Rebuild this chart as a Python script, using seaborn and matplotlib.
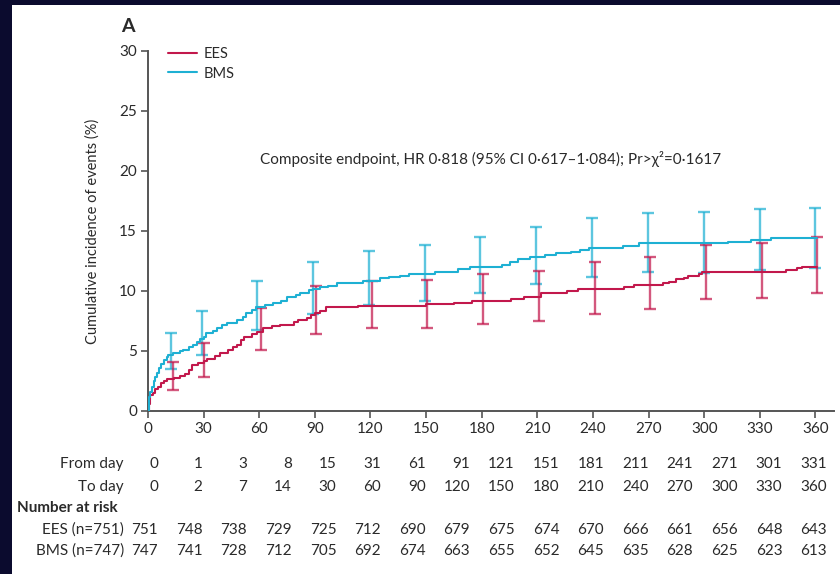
import numpy as np
import pandas as pd
import matplotlib
matplotlib.use("Agg")
import matplotlib.pyplot as plt
import seaborn as sns
from matplotlib.patches import Rectangle

# ---------------- data ----------------
ees_t = [0, 0.5, 1, 2.5, 4, 5.5, 7, 8.5, 10, 14, 17, 20, 22, 24, 27, 30, 32, 36, 39, 43, 46, 48, 50, 52,
         56, 59, 62, 67, 71, 79, 81, 86, 88, 90, 93, 96, 113, 150, 165, 175, 196, 203, 212, 226, 232,
         257, 262, 278, 281, 285, 289, 291, 297, 299, 344, 350, 353, 361]
ees_y = [0, 0.6, 1.3, 1.5, 1.8, 2.0, 2.3, 2.5, 2.65, 2.75, 2.9, 3.1, 3.4, 3.8, 4.0, 4.15, 4.3, 4.6, 4.86,
         5.1, 5.3, 5.5, 5.9, 6.2, 6.4, 6.6, 6.9, 7.08, 7.15, 7.4, 7.6, 7.75, 8.0, 8.15, 8.35, 8.64, 8.75,
         8.9, 9.03, 9.2, 9.33, 9.5, 9.86, 10.03, 10.14, 10.36, 10.5, 10.64, 10.78, 10.97, 11.1, 11.25,
         11.4, 11.58, 11.75, 11.9, 12.03, 12.03]

bms_t = [0, 0.3, 0.7, 1.3, 2, 3, 4, 5, 6, 7, 8.5, 10, 11, 13.5, 17, 19, 22, 24.5, 26.5, 28, 30, 31.5, 35,
         37, 40, 42.5, 48, 51, 53, 56, 58.5, 63, 67.5, 72, 75, 80, 82, 87, 89, 93, 97, 101.7, 116, 125,
         130, 136, 141, 155, 167, 173.6, 190.7, 195, 199.6, 206, 214, 220, 228.4, 233, 238, 256, 265,
         312.8, 325.4, 336.2, 361]
bms_y = [0, 0.8, 1.2, 1.6, 2.0, 2.5, 2.86, 3.2, 3.55, 3.9, 4.25, 4.5, 4.67, 4.86, 5.0, 5.08, 5.3, 5.5,
         5.75, 6.0, 6.2, 6.47, 6.7, 6.9, 7.15, 7.36, 7.58, 7.8, 8.14, 8.4, 8.64, 8.8, 8.97, 9.2, 9.53,
         9.7, 9.86, 10.05, 10.17, 10.3, 10.45, 10.64, 10.86, 11.06, 11.15, 11.28, 11.4, 11.6, 11.8,
         12.03, 12.2, 12.44, 12.64, 12.8, 13.0, 13.14, 13.28, 13.42, 13.56, 13.75, 13.97, 14.1, 14.25,
         14.39, 14.39]

bms_ci_t = [12.2, 28.9, 58.9, 89, 119.1, 149.3, 179.3, 209.5, 239.5, 269.7, 299.7, 329.9, 359.9]
bms_lo = [3.5, 4.7, 6.75, 8.1, 8.83, 9.17, 9.83, 10.6, 11.17, 11.56, 11.5, 11.75, 11.95]
bms_hi = [6.5, 8.3, 10.86, 12.45, 13.36, 13.8, 14.5, 15.36, 16.1, 16.5, 16.6, 16.8, 16.9]

ees_ci_t = [13.5, 30.3, 60.9, 90.6, 120.6, 150.4, 180.6, 210.8, 241, 271, 301, 331.2, 361]
ees_lo = [1.75, 2.85, 5.1, 6.4, 6.9, 6.95, 7.25, 7.5, 8.1, 8.5, 9.33, 9.45, 9.83]
ees_hi = [4.1, 5.7, 8.6, 10.4, 10.86, 10.9, 11.4, 11.7, 12.4, 12.8, 13.8, 13.97, 14.5]

x_ticks = [0, 30, 60, 90, 120, 150, 180, 210, 240, 270, 300, 330, 360]
y_ticks = [0, 5, 10, 15, 20, 25, 30]

from_day = [0, 1, 3, 8, 15, 31, 61, 91, 121, 151, 181, 211, 241, 271, 301, 331]
to_day = [0, 2, 7, 14, 30, 60, 90, 120, 150, 180, 210, 240, 270, 300, 330, 360]
ees_risk = [751, 748, 738, 729, 725, 712, 690, 679, 675, 674, 670, 666, 661, 656, 648, 643]
bms_risk = [747, 741, 728, 712, 705, 692, 674, 663, 655, 652, 645, 635, 628, 625, 623, 613]

annotation = "Composite endpoint, HR 0·818 (95% CI 0·617–1·084); Pr>χ²=0·1617"

# ---------------- style ----------------
sns.set_style("ticks")
FONT = ["Lato", "DejaVu Sans"]
plt.rcParams["font.family"] = FONT
TXT = "#2a2a2a"
AX = "#555555"
RED = "#c2184c"
CYAN = "#1eb0d3"

W, H = 840, 574
fig = plt.figure(figsize=(W / 100, H / 100), dpi=100, facecolor="#0b0b2e")
fig.patches.append(Rectangle((12 / W, 0), 1, (H - 5) / H, transform=fig.transFigure,
                             facecolor="white", edgecolor="none", zorder=-10))

left, right, bottom, top = 148, 834, 411, 51
ax = fig.add_axes([left / W, 1 - bottom / H, (right - left) / W, (bottom - top) / H])
ax.set_zorder(5)
ax.set_facecolor("none")
ax.patch.set_alpha(0)

df = pd.concat([
    pd.DataFrame({"t": ees_t, "y": ees_y, "group": "EES"}),
    pd.DataFrame({"t": bms_t, "y": bms_y, "group": "BMS"}),
])
sns.lineplot(data=df, x="t", y="y", hue="group", palette={"EES": RED, "BMS": CYAN},
             drawstyle="steps-post", linewidth=1.5, estimator=None, sort=False, ax=ax, zorder=3)

for ct, lo, hi, col in [(bms_ci_t, bms_lo, bms_hi, CYAN), (ees_ci_t, ees_lo, ees_hi, RED)]:
    lo = np.array(lo); hi = np.array(hi)
    mid = (lo + hi) / 2
    ax.errorbar(ct, mid, yerr=[mid - lo, hi - mid], fmt="none", ecolor=col, elinewidth=1.7,
                capsize=4, capthick=1.7, alpha=0.72, zorder=2)

ax.set_xlim(0, 370)
ax.set_ylim(0, 30)
ax.set_xticks(x_ticks)
ax.set_yticks(y_ticks)
ax.tick_params(axis="both", direction="out", length=5, width=1.2, color=AX,
               labelsize=11, labelcolor=TXT, pad=3)
for s in ["top", "right"]:
    ax.spines[s].set_visible(False)
for s in ["left", "bottom"]:
    ax.spines[s].set_color(AX)
    ax.spines[s].set_linewidth(1.4)
ax.set_xlabel("")
ax.set_ylabel("Cumulative incidence of events (%)", fontsize=10.5, color=TXT)
ax.yaxis.set_label_coords(-0.07, 0.5)

leg = ax.legend(loc="upper left", bbox_to_anchor=(0.018, 1.03), frameon=False, fontsize=10.5,
                handlelength=2.0, handletextpad=0.5, labelspacing=0.35, borderpad=0)
for t in leg.get_texts():
    t.set_color(TXT)

ax.text(184.6, 21, annotation, ha="center", va="center", fontsize=11, color=TXT)

fig.text(128 / W, 1 - 27 / H, "A", fontsize=14, fontweight="bold", color=TXT, ha="center", va="center")

# ---------------- risk table ----------------
col_x = [(158 + 44.6 * i) / W for i in range(len(from_day))]
rows = [(464, "From day", from_day), (487, "To day", to_day),
        (530, "EES (n=751)", ees_risk), (551, "BMS (n=747)", bms_risk)]
for ypx, label, vals in rows:
    fig.text(124 / W, 1 - ypx / H, label, ha="right", va="center", fontsize=11, color=TXT)
    for xi, v in zip(col_x, vals):
        fig.text(xi, 1 - ypx / H, str(v), ha="right", va="center", fontsize=11, color=TXT)
fig.text(17 / W, 1 - 508 / H, "Number at risk", ha="left", va="center", fontsize=11,
         fontweight="bold", color=TXT)

fig.savefig("out.png", dpi=100, facecolor=fig.get_facecolor())
